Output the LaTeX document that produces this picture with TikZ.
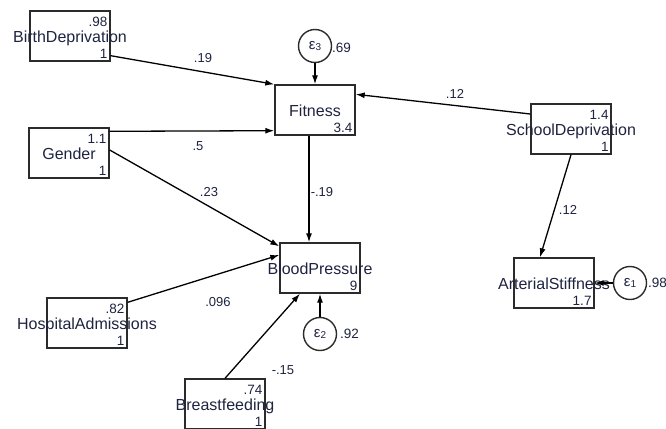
\documentclass[tikz,border=0pt]{standalone}
\usepackage{fontspec}
\setmainfont{Liberation Sans}
\usetikzlibrary{arrows.meta,calc}
\definecolor{txt}{HTML}{1E2340}
\definecolor{edge}{HTML}{2B2B2B}
\begin{document}
\begin{tikzpicture}[x=1pt,y=-1pt,
  vbox/.style={draw=edge,line width=1.4pt,minimum width=80pt,minimum height=50pt,inner sep=0pt},
  vname/.style={font=\fontsize{16}{16}\selectfont,text=txt,inner sep=0pt,anchor=base},
  numlab/.style={font=\fontsize{13.5}{14}\selectfont,text=txt,inner sep=0pt},
  coef/.style={font=\fontsize{13}{13}\selectfont,text=txt,inner sep=0pt},
  errc/.style={draw=edge,circle,line width=1.4pt,minimum size=33pt,inner sep=0pt,font=\fontsize{15}{15}\selectfont,text=txt},
  conn/.style={draw=black,line width=1.3pt,-{Latex[length=9pt,width=6pt]}}]
\useasboundingbox (0,0) rectangle (666,428);

% variables
\node[vbox] (bd) at (70,36) {};
\node[vname] (bdt) at ($(bd.center)+(0,6)$) {BirthDeprivation};
\node[numlab,anchor=north east] (bdm) at ($(bd.north east)+(-3,7)$) {.98};
\node[numlab,anchor=south east] (bdv) at ($(bd.south east)+(-3,-3)$) {1};

\node[vbox] (ge) at (69,153) {};
\node[vname] (get) at ($(ge.center)+(0,6)$) {Gender};
\node[numlab,anchor=north east] (gem) at ($(ge.north east)+(-3,7)$) {1.1};
\node[numlab,anchor=south east] (gev) at ($(ge.south east)+(-3,-3)$) {1};

\node[vbox] (fi) at (315,110) {};
\node[vname] (fit) at ($(fi.center)+(0,6)$) {Fitness};
\node[numlab,anchor=south east] (fiv) at ($(fi.south east)+(-3,-3)$) {3.4};

\node[vbox] (sd) at (571,129) {};
\node[vname] (sdt) at ($(sd.center)+(0,6)$) {SchoolDeprivation};
\node[numlab,anchor=north east] (sdm) at ($(sd.north east)+(-3,7)$) {1.4};
\node[numlab,anchor=south east] (sdv) at ($(sd.south east)+(-3,-3)$) {1};

\node[vbox] (bp) at (320,268) {};
\node[vname] (bpt) at ($(bp.center)+(0,6)$) {BloodPressure};
\node[numlab,anchor=south east] (bpv) at ($(bp.south east)+(-3,-3)$) {9};

\node[vbox] (as) at (554,283) {};
\node[vname] (ast) at ($(as.center)+(0,6)$) {ArterialStiffness};
\node[numlab,anchor=south east] (asv) at ($(as.south east)+(-3,-3)$) {1.7};

\node[vbox] (ha) at (87,323) {};
\node[vname] (hat) at ($(ha.center)+(0,6)$) {HospitalAdmissions};
\node[numlab,anchor=north east] (ham) at ($(ha.north east)+(-3,7)$) {.82};
\node[numlab,anchor=south east] (hav) at ($(ha.south east)+(-3,-3)$) {1};

\node[vbox] (bf) at (225,404) {};
\node[vname] (bft) at ($(bf.center)+(0,6)$) {Breastfeeding};
\node[numlab,anchor=north east] (bfm) at ($(bf.north east)+(-3,7)$) {.74};
\node[numlab,anchor=south east] (bfv) at ($(bf.south east)+(-3,-3)$) {1};

% error terms
\node[errc] (e3) at (315,46) {ε\raisebox{-1.5pt}{\fontsize{10}{10}\selectfont 3}};
\node[numlab,anchor=west] (e3v) at (332,48) {.69};
\node[errc] (e2) at (320,334) {ε\raisebox{-1.5pt}{\fontsize{10}{10}\selectfont 2}};
\node[numlab,anchor=west] (e2v) at (340,334) {.92};
\node[errc] (e1) at (630,283) {ε\raisebox{-1.5pt}{\fontsize{10}{10}\selectfont 1}};
\node[numlab,anchor=west] (e1v) at (648,283) {.98};

% connectors
\draw[conn] ($(bd.south east)+(0,-6)$) -- (fi.north west);
\draw[conn] ($(ge.north east)+(0,4)$) -- ($(fi.south west)+(0,-5)$);
\draw[conn] ($(ge.east)+(0,-3)$) -- ($(bp.north west)+(0,4)$);
\draw[conn] ($(fi.south)+(-6,0)$) -- ($(bp.north)+(-11,0)$);
\draw[conn] ($(sd.west)+(0,-15)$) -- ($(fi.north east)+(0,10)$);
\draw[conn] (sd.south) -- ($(as.north)+(-14,0)$);
\draw[conn] ($(ha.north east)+(0,5)$) -- ($(bp.west)+(0,-13)$);
\draw[conn] (bf.north) -- ($(bp.south)+(-20,0)$);
\draw[conn] (e3) -- (fi.north);
\draw[conn] (e2) -- (bp.south);
\draw[conn] (e1) -- (as.east);

% coefficients
\node[coef] (c1) at (203,58) {.19};
\node[coef] (c2) at (198,146) {.5};
\node[coef] (c3) at (209,192) {.23};
\node[coef] (c4) at (322,192) {-.19};
\node[coef] (c5) at (455,94) {.12};
\node[coef] (c6) at (568,210) {.12};
\node[coef] (c7) at (218,302) {.096};
\node[coef] (c8) at (283,370) {-.15};
\end{tikzpicture}
\end{document}
